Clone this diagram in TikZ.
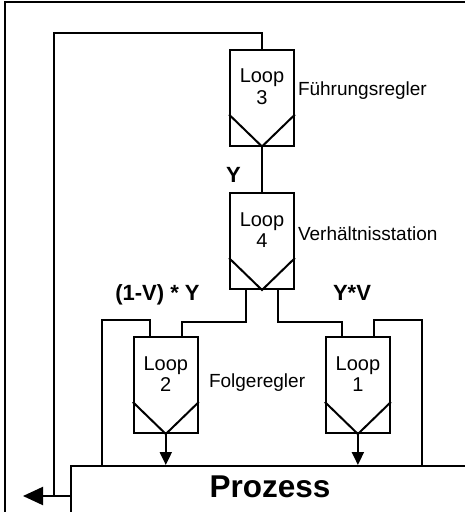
\documentclass[tikz,border=0pt]{standalone}
\usepackage{fontspec}
\setmainfont{Liberation Sans}
\usetikzlibrary{arrows.meta,calc}
\begin{document}
\begin{tikzpicture}[x=1pt,y=-1pt, line width=2pt,
  loopbox/.style={draw, minimum width=64pt, minimum height=96pt, inner sep=0pt},
  looptxt/.style={font=\fontsize{20}{21.5}\selectfont, align=center, anchor=north, inner sep=0pt},
  lbl/.style={font=\fontsize{19}{22}\selectfont, anchor=base west, inner sep=0pt},
  blbl/.style={font=\bfseries\fontsize{22}{26}\selectfont, anchor=base, inner sep=0pt},
  arr/.style={-{Triangle[length=13pt,width=12pt]}},
  bigarr/.style={-{Triangle[length=20pt,width=18pt]}},
]
\clip (0,0) rectangle (465,512);
\useasboundingbox (0,0) rectangle (465,512);
% outer frame
\draw (466,1.5) -- (5,1.5) -- (5,513);
% process
\node[draw, minimum width=420pt, minimum height=80pt, anchor=north west] (p) at (70,465) {};
\node[font=\bfseries\fontsize{31.5}{36}\selectfont, anchor=base, inner sep=0pt] (ptxt) at (270,497) {Prozess};
% loop boxes
\node[loopbox] (l3) at (262,97.5) {};
\node[loopbox] (l4) at (262,241) {};
\node[loopbox] (l2) at (165.8,385) {};
\node[loopbox] (l1) at (357.9,385) {};
\foreach \n/\k in {l3/3,l4/4,l2/2,l1/1}{
  \draw ($(\n.south west)+(0,-32)$) -- (\n.south) -- ($(\n.south east)+(0,-32)$);
  \node[looptxt] (t\n) at ($(\n.north)+(0,19.3)$) {Loop\\\k};
}
% labels
\node[lbl] (fr) at (297,95) {Führungsregler};
\node[lbl] (vs) at (297,240) {Verhältnisstation};
\node[lbl] (fg) at (208,387) {Folgeregler};
\node[blbl] (ly) at (233.5,182) {Y};
\node[blbl] (l1v) at (157.5,300) {(1-V) * Y};
\node[blbl] (lyv) at (352,300) {Y*V};
% connectors
\coordinate (fb) at (54,496);
\coordinate (out) at (23,496);
\draw (l3.north) -- ++(0,-16) -| (fb);
\draw[bigarr] (p.north west |- fb) -- (out);
\draw (l3.south) -- (l4.north);
\draw ($(l4.south)+(-16,0)$) -- ++(0,32) -| ($(l2.north)+(16,0)$);
\draw ($(l4.south)+(16,0)$) -- ++(0,32) -| ($(l1.north)+(-15.6,0)$);
\draw ($(l2.north)+(-15.8,0)$) -- ++(0,-16) -| ($(p.north west)+(31.7,0)$);
\draw ($(l1.north)+(16.1,0)$) -- ++(0,-16) -| ($(p.north west)+(351.7,0)$);
\draw[arr] (l2.south) -- (l2.south |- p.north);
\draw[arr] (l1.south) -- (l1.south |- p.north);
\end{tikzpicture}
\end{document}
